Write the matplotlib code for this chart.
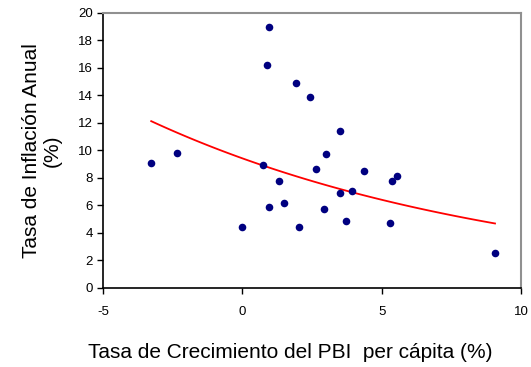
import matplotlib.pyplot as plt
import numpy as np

plt.rcParams['font.family'] = ['Liberation Sans', 'DejaVu Sans']
plt.rcParams['axes.unicode_minus'] = False

# Crecimiento del PBI per cápita (%) e inflación anual (%)
crecimiento = [0.94, 0.88, 1.94, 2.44, 3.5, -3.27, -2.35, 0.0, 0.73, 1.3,
               0.94, 1.51, 2.05, 3.0, 2.65, 2.94, 3.5, 3.95, 3.73, 4.37,
               5.38, 5.55, 5.3, 9.07]
inflacion = [19.0, 16.2, 14.9, 13.9, 11.4, 9.1, 9.8, 4.4, 8.9, 7.8,
             5.9, 6.2, 4.4, 9.7, 8.65, 5.75, 6.9, 7.05, 4.85, 8.5,
             7.8, 8.1, 4.7, 2.5]

x_ticks = [-5, 0, 5, 10]
y_ticks = list(range(0, 21, 2))

fig = plt.figure(figsize=(5.31, 3.67), dpi=100)
ax = fig.add_axes([0.194, 0.216, 0.787, 0.749])

ax.scatter(crecimiento, inflacion, s=30, color='#000080', zorder=3,
           linewidths=0)

# línea de tendencia exponencial
x = np.array(crecimiento)
y = np.array(inflacion)
b, ln_a = np.polyfit(x, np.log(y), 1)
xs = np.linspace(x.min(), x.max(), 100)
ax.plot(xs, np.exp(ln_a) * np.exp(b * xs), color='red', lw=1.3, zorder=2)

ax.set_xlim(-5, 10)
ax.set_ylim(0, 20)
ax.set_xticks(x_ticks)
ax.set_yticks(y_ticks)
ax.tick_params(labelsize=9.5, length=4, width=1, direction='out')
ax.tick_params(axis='x', pad=9)

for side in ['top', 'right']:
    ax.spines[side].set_color('#909090')
    ax.spines[side].set_linewidth(1.5)
for side in ['left', 'bottom']:
    ax.spines[side].set_color('black')
    ax.spines[side].set_linewidth(1.2)

ax.set_xlabel('Tasa de Crecimiento del PBI  per cápita (%)', fontsize=15,
              va='center')
ax.xaxis.set_label_coords(0.447, -0.234)
ax.set_ylabel('Tasa de Inflación Anual\n(%)', fontsize=15, va='center',
              linespacing=1.1)
ax.yaxis.set_label_coords(-0.147, 0.5)

fig.savefig('out.png', dpi=100)
